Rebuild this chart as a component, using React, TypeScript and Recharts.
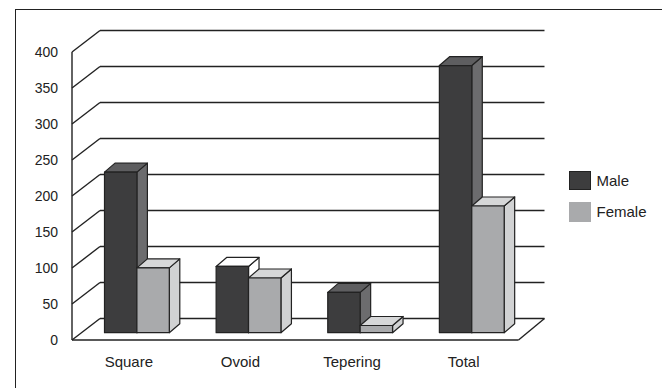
import { BarChart, Bar, XAxis, YAxis, CartesianGrid, Legend } from 'recharts';

const categories = ['Square', 'Ovoid', 'Tepering', 'Total'];
const maleValues = [223, 92, 56, 371];
const femaleValues = [90, 76, 10, 176];
const seriesNames = ['Male', 'Female'];
const yTicks = [0, 50, 100, 150, 200, 250, 300, 350, 400];

const data = categories.map((name, i) => ({
  name,
  Male: maleValues[i],
  Female: femaleValues[i],
}));

const FONT = '"Liberation Sans", Arial, sans-serif';
const INK = '#222';

// plot area = front plane of the 3d box
const PLOT_BOTTOM = 340;
// back wall offset
const WALL_DX = 28;
const WALL_DY = -21.5;
// bars sit a bit behind the front plane
const SHIFT_X = 9.5;
const SHIFT_Y = -7.3;
// bar depth
const BAR_DX = 10.5;
const BAR_DY = -9;

const faces: Record<string, { front: string; top: string; side: string }> = {
  Male: { front: '#3d3d3e', top: '#5e5e60', side: '#6c6c6e' },
  Female: { front: '#a9aaac', top: '#d6d7d8', side: '#d1d2d3' },
};

function Box3D(props: any) {
  const { x, y, width, height, dataKey, payload } = props;
  if (width == null || height == null) return null;
  const f = faces[dataKey];
  // the ovoid male bar is drawn with blank top/side in the original
  const blank = dataKey === 'Male' && payload?.name === 'Ovoid';
  const fx = x + SHIFT_X;
  const fy = y + SHIFT_Y;
  const top = [
    [fx, fy],
    [fx + width, fy],
    [fx + width + BAR_DX, fy + BAR_DY],
    [fx + BAR_DX, fy + BAR_DY],
  ];
  const side = [
    [fx + width, fy],
    [fx + width + BAR_DX, fy + BAR_DY],
    [fx + width + BAR_DX, fy + height + BAR_DY],
    [fx + width, fy + height],
  ];
  const pts = (a: number[][]) => a.map((p) => p.join(',')).join(' ');
  return (
    <g stroke={INK} strokeWidth={1.2} strokeLinejoin="round">
      <polygon points={pts(side)} fill={blank ? '#fff' : f.side} />
      <polygon points={pts(top)} fill={blank ? '#fff' : f.top} />
      <rect x={fx} y={fy} width={width} height={height} fill={f.front} />
    </g>
  );
}

function GridLine(p: any) {
  const { x1, y1, x2 } = p;
  const isBase = y1 >= PLOT_BOTTOM - 0.5;
  return (
    <g key={p.key} stroke={INK} strokeWidth={1.4} fill="none">
      <line x1={x1} y1={y1} x2={x1 + WALL_DX} y2={y1 + WALL_DY} />
      <line x1={x1 + WALL_DX} y1={y1 + WALL_DY} x2={x2 + WALL_DX - 2} y2={y1 + WALL_DY} />
      {isBase && (
        <>
          <line x1={x1} y1={y1} x2={x2} y2={y1} />
          <line x1={x2} y1={y1} x2={x2 + WALL_DX - 2} y2={y1 + WALL_DY} />
        </>
      )}
    </g>
  );
}

function YTick({ y, payload }: any) {
  return (
    <text x={58} y={y} dy={5} textAnchor="end" fill={INK} fontSize={14} fontFamily={FONT}>
      {payload.value}
    </text>
  );
}

function XTick({ x, payload }: any) {
  return (
    <text x={x + 1} y={367} textAnchor="middle" fill={INK} fontSize={15} fontFamily={FONT}>
      {payload.value}
    </text>
  );
}

function LegendBox({ payload }: any) {
  const items = [...(payload || [])].sort(
    (a: any, b: any) => seriesNames.indexOf(a.value) - seriesNames.indexOf(b.value)
  );
  return (
    <div style={{ fontFamily: FONT, fontSize: 15, color: INK }}>
      {items.map((item: any) => (
        <div key={item.value} style={{ display: 'flex', alignItems: 'center', height: 19.5, marginBottom: 12 }}>
          <span
            style={{
              display: 'inline-block',
              width: 21.5,
              height: 19.5,
              boxSizing: 'border-box',
              background: faces[item.value].front,
              border: item.value === 'Male' ? `1.5px solid ${INK}` : 'none',
              marginRight: 6,
            }}
          />
          <span>{item.value}</span>
        </div>
      ))}
    </div>
  );
}

export default function App() {
  return (
    <div style={{ position: 'absolute', left: 0, top: 0, width: 662, height: 388, overflow: 'hidden', background: '#fff' }}>
      <div
        style={{
          position: 'absolute',
          left: 14.5,
          top: 8.5,
          width: 720,
          height: 420,
          borderLeft: `1.5px solid ${INK}`,
          borderTop: `1.5px solid ${INK}`,
        }}
      />
      <BarChart
        width={662}
        height={388}
        data={data}
        margin={{ top: 52, right: 143.5, bottom: 18, left: 0 }}
        barGap={0}
        barSize={32.4}
        style={{ position: 'absolute', left: 0, top: 0 }}
      >
        <CartesianGrid vertical={false} horizontal={GridLine} />
        <XAxis dataKey="name" axisLine={false} tickLine={false} height={30} tick={XTick} interval={0} />
        <YAxis
          width={72}
          domain={[0, 400]}
          ticks={yTicks}
          axisLine={{ stroke: INK, strokeWidth: 1.4 }}
          tickLine={false}
          tick={YTick}
          interval={0}
        />
        <Legend
          layout="vertical"
          align="center"
          verticalAlign="middle"
          content={LegendBox}
          wrapperStyle={{ position: 'absolute', left: 569, top: 170.5, width: 90 }}
        />
        <Bar dataKey="Male" fill={faces.Male.front} shape={Box3D} isAnimationActive={false} />
        <Bar dataKey="Female" fill={faces.Female.front} shape={Box3D} isAnimationActive={false} />
      </BarChart>
    </div>
  );
}
